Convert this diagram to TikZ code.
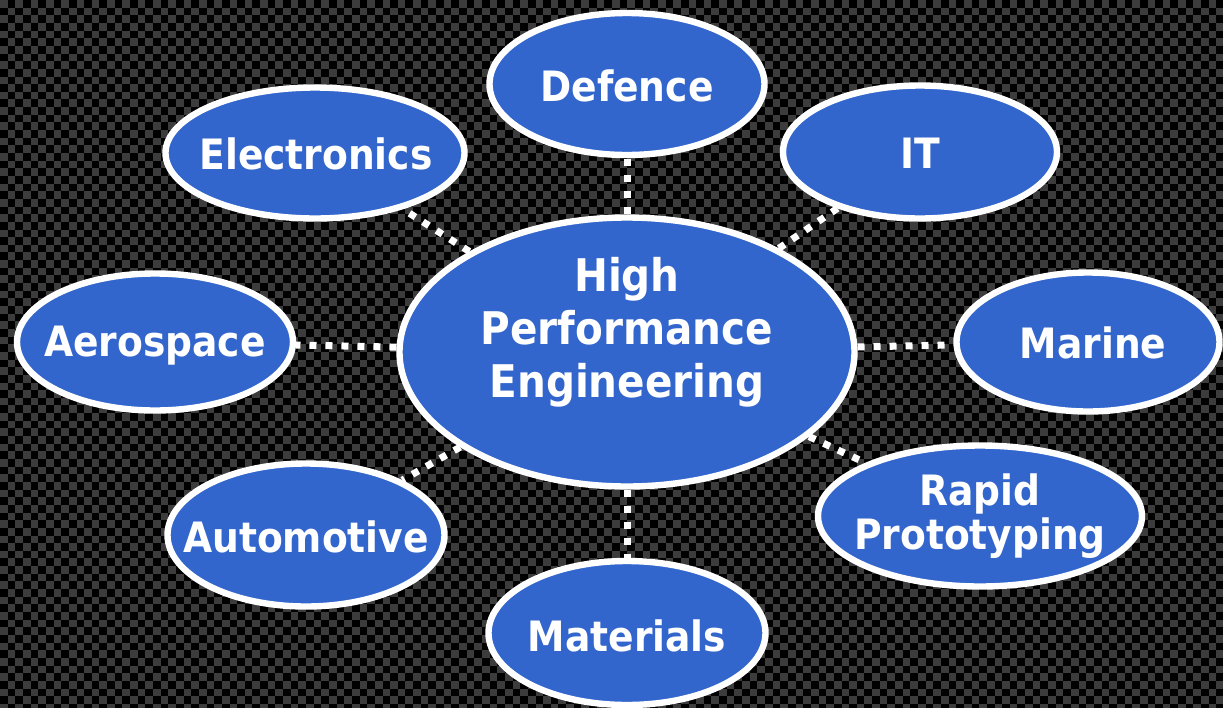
\documentclass[tikz,border=0pt]{standalone}
\usepackage{fontspec}
\setmainfont{DejaVu Sans Condensed}
\usetikzlibrary{shapes.geometric}
\definecolor{topicblue}{HTML}{3366CC}
\definecolor{tile}{HTML}{3C3C3C}

\begin{document}
\begin{tikzpicture}[x=0.5pt, y=-0.5pt,
  topic/.style 2 args={ellipse, draw=white, line width=3.2pt, fill=topicblue,
    minimum width=#1pt, minimum height=#2pt},
  caption/.style={text=white, font=\bfseries\fontsize{20.9}{22}\selectfont,
    align=center, inner sep=0pt},
  link/.style={white, line width=3.5pt, dash pattern=on 3.5pt off 4.5pt}]
  \useasboundingbox (0,0) rectangle (1223,708);
  \clip (0,0) rectangle (1223,708);

  % checkered background
  \fill[black] (0,0) rectangle (1223,708);
  \foreach \r in {0,...,46} {
    \draw[tile, line width=3.83pt, dash pattern=on 3.825pt off 3.825pt]
      (0,{\r*15.3+3.825}) -- (1223,{\r*15.3+3.825});
    \draw[tile, line width=3.83pt, dash pattern=on 3.825pt off 3.825pt, dash phase=3.825pt]
      (0,{\r*15.3+11.475}) -- (1223,{\r*15.3+11.475});
  }

  % ellipses
  \node[topic={227.5}{134.5}] (hpe)         at (627,352) {};
  \node[topic={137.5}{71}]    (defence)     at (627,84)  {};
  \node[topic={149.5}{65.5}]  (electronics) at (315,153) {};
  \node[topic={137}{66.5}]    (it)          at (920,152) {};
  \node[topic={138}{68.5}]    (aerospace)   at (155,342) {};
  \node[topic={131.5}{69.5}]  (marine)      at (1088,342) {};
  \node[topic={138.5}{71.5}]  (automotive)  at (306,535) {};
  \node[topic={162}{70.5}]    (rapid)       at (980,516) {};
  \node[topic={138.5}{72}]    (materials)   at (627,633) {};

  % dotted links
  \foreach \n in {defence,electronics,it,aerospace,marine,automotive,rapid,materials}
    \draw[link] (hpe) -- (\n);

  % labels
  \node[caption, font=\bfseries\fontsize{22.5}{26.5}\selectfont] (hpe text) at (627,332)
    {High\\Performance\\Engineering};
  \node[caption] (defence text)     at (627,86)   {Defence};
  \node[caption] (electronics text) at (316,154)  {Electronics};
  \node[caption] (it text)          at (920,153)  {IT};
  \node[caption] (aerospace text)   at (155,346)  {Aerospace};
  \node[caption] (marine text)      at (1093,343) {Marine};
  \node[caption] (automotive text)  at (306,537)  {Automotive};
  \node[caption] (rapid text)       at (980,516)  {Rapid\\Prototyping};
  \node[caption] (materials text)   at (627,636)  {Materials};
\end{tikzpicture}
\end{document}
